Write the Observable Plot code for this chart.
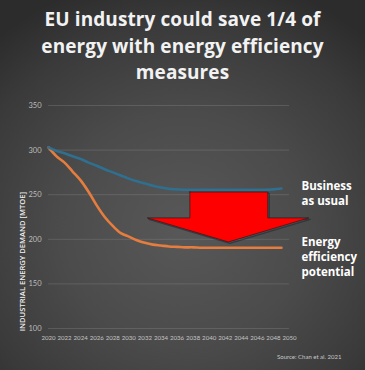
<!DOCTYPE html>
<html>
<head>
<meta charset="utf-8">
<script src="https://cdn.jsdelivr.net/npm/d3@7"></script>
<script src="https://cdn.jsdelivr.net/npm/@observablehq/plot@0.6"></script>
<style>
  html, body { margin: 0; padding: 0; }
  body { width: 365px; height: 370px; overflow: hidden; }
  #wrap {
    position: relative; width: 365px; height: 370px;
    background: radial-gradient(ellipse 75% 70% at 50% 62%, #585858 0%, #4b4b4b 45%, #3a3a3a 80%, #2c2c2c 100%);
    font-family: "Open Sans", sans-serif;
  }
  #title {
    position: absolute; left: 0; top: 6px; width: 365px; text-align: center;
    color: #f2f2f2; font-weight: 700; font-size: 19px; line-height: 26.5px;
    font-family: "Open Sans", sans-serif; letter-spacing: 0.1px;
  }
  #chart { position: absolute; left: 0; top: 92px; }
  #source {
    position: absolute; left: 277px; top: 353px; font-size: 6px; color: #c8c8c8;
    font-family: Lato, sans-serif;
  }
</style>
</head>
<body>
<div id="wrap">
  <div id="title">EU industry could save 1/4 of<br>energy with energy efficiency<br>measures</div>
  <div id="chart"></div>
  <div id="source">Source: Chan et al. 2021</div>
</div>
<script>
const years = [2020,2021,2022,2023,2024,2025,2026,2027,2028,2029,2030,2031,2032,2033,2034,2035,2036,2037,2038,2039,2040,2041,2042,2043,2044,2045,2046,2047,2048,2049];
const businessAsUsual = [303,299,296.5,293,290,286,282.5,278.5,275,271.5,268,265,262.5,260,258,256.5,256,255.5,255.5,255.5,255.5,255.5,255.5,255.5,255.5,255.5,255.5,255.5,256,257];
const efficiencyPotential = [303,293,286,276,266,253,238,225,215,207,203,199,196,194,193,192,191.5,191,191,190.5,190.5,190.5,190.5,190.5,190.5,190.5,190.5,190.5,190.5,190.5];
const yTicks = [100,150,200,250,300,350];
const xTicks = d3.range(2020, 2051, 2);
const yLabel = "INDUSTRIAL ENERGY DEMAND [MTOE]";
const seriesLabels = ["Business\nas usual", "Energy\nefficiency\npotential"];
// arrow outline in data units (year, MTOE)
const arrowX = [2037.6, 2047.3, 2047.3, 2052.4, 2042.4, 2032.3, 2037.6, 2037.6];
const arrowY = [253, 253, 224, 224, 197, 224, 224, 253];

const bau = years.map((y, i) => ({year: y, value: businessAsUsual[i]}));
const eff = years.map((y, i) => ({year: y, value: efficiencyPotential[i]}));
const arrow = arrowX.map((x, i) => ({x, y: arrowY[i]}));

const plot = Plot.plot({
  width: 365,
  height: 278,
  marginLeft: 48,
  marginRight: 76,
  marginTop: 13,
  marginBottom: 42,
  style: {background: "transparent", fontFamily: "Lato, sans-serif", overflow: "visible"},
  x: {domain: [2020, 2050], label: null},
  y: {domain: [100, 350], label: null},
  marks: [
    Plot.gridY(yTicks, {stroke: "#9a9a9a", strokeOpacity: 0.35, strokeWidth: 0.8, x1: 2020, x2: 2050}),
    Plot.axisY(yTicks, {tickSize: 0, tickPadding: 7, fill: "#bdbdbd", fontSize: 7.5, label: null}),
    Plot.axisX(xTicks, {tickSize: 0, tickPadding: 7, fill: "#c4c4c4", fontSize: 6.1, tickFormat: d => String(d), label: null}),
    Plot.line(arrow, {x: "x", y: "y", fill: "#ff0000", stroke: "#1e2a36", strokeWidth: 1.3, curve: "linear-closed", dx: 1.5, dy: 1.5, fillOpacity: 0, strokeOpacity: 0.6}),
    Plot.line(arrow, {x: "x", y: "y", fill: "#ff0000", stroke: "#3a1a1a", strokeWidth: 0.8, curve: "linear-closed"}),
    Plot.line(eff, {x: "year", y: "value", stroke: "#e57d3e", strokeWidth: 2.6, curve: "catmull-rom"}),
    Plot.line(bau, {x: "year", y: "value", stroke: "#2f6f8f", strokeWidth: 2.6, curve: "catmull-rom"}),
    Plot.text([yLabel], {text: d => d, x: () => 2020, y: () => 175, rotate: -90, dx: -26, fill: "#f0f0f0", fontSize: 7.6, fontWeight: 600, fontFamily: "Open Sans, sans-serif"}),
    Plot.text([seriesLabels[0]], {text: d => d, x: () => 2050, y: () => 267, dx: 12, textAnchor: "start", lineAnchor: "top", lineHeight: 1.3, fill: "#ffffff", fontSize: 11.5, fontWeight: 700, fontFamily: "Open Sans, sans-serif"}),
    Plot.text([seriesLabels[1]], {text: d => d, x: () => 2050, y: () => 204, dx: 12, textAnchor: "start", lineAnchor: "top", lineHeight: 1.3, fill: "#ffffff", fontSize: 11.5, fontWeight: 700, fontFamily: "Open Sans, sans-serif"})
  ]
});
document.getElementById("chart").appendChild(plot);
</script>
</body>
</html>
